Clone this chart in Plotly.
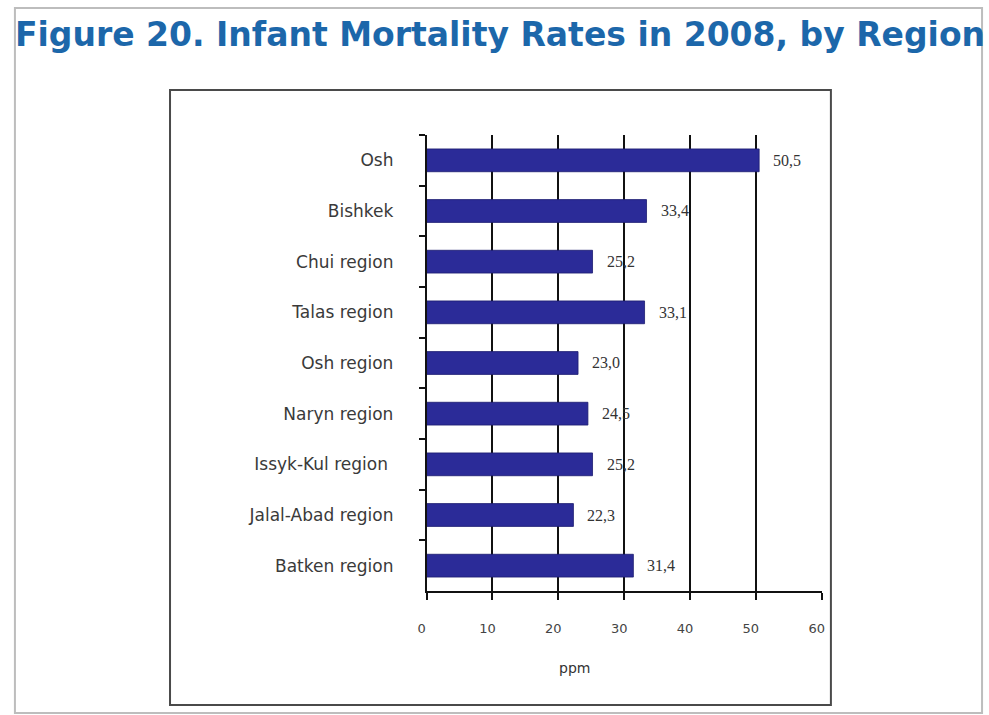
import plotly.graph_objects as go

# Infant mortality rate per region, 2008 (per mille)
regions = ["Osh", "Bishkek", "Chui region", "Talas region", "Osh region",
           "Naryn region", "Issyk-Kul region ", "Jalal-Abad region", "Batken region"]
rates = [50.5, 33.4, 25.2, 33.1, 23.0, 24.5, 25.2, 22.3, 31.4]
x_ticks = [0, 10, 20, 30, 40, 50, 60]

W, H = 989, 715
BAR = "#2b2b98"


def px(x):
    return x / W


def py(y):
    return 1 - y / H


fig = go.Figure()
fig.add_trace(go.Bar(
    y=regions, x=rates, orientation="h", width=0.45,
    marker=dict(color=BAR, line=dict(color="#1c1c70", width=0.8)),
    hoverinfo="skip",
))

# value labels to the right of each bar, written with decimal commas
for r, v in zip(regions, rates):
    fig.add_annotation(
        x=v, y=r, xref="x", yref="y", text=f"{v:.1f}".replace(".", ","),
        showarrow=False, xanchor="left", xshift=12,
        font=dict(family="Liberation Serif", size=16, color="#333333"),
    )

# title
fig.add_annotation(
    x=px(4), y=py(34), xref="paper", yref="paper", xanchor="left", yanchor="middle",
    text="<b>Figure 20. Infant Mortality Rates in 2008, by Region</b>",
    showarrow=False, font=dict(family="DejaVu Sans", size=33, color="#1c67aa"),
)

# axis title
fig.add_annotation(
    x=px(572), y=py(668), xref="paper", yref="paper", text="ppm",
    xanchor="center", yanchor="middle",
    showarrow=False, font=dict(family="DejaVu Sans", size=14, color="#333333"),
)

# page frame and chart frame
fig.add_shape(type="rect", xref="paper", yref="paper",
              x0=px(6), x1=px(985), y0=py(713), y1=py(8),
              line=dict(color="#bdbdbd", width=2))
fig.add_shape(type="rect", xref="paper", yref="paper",
              x0=px(163), x1=px(832), y0=py(705), y1=py(90),
              line=dict(color="#4a4a4a", width=2))

fig.update_layout(
    width=W, height=H,
    margin=dict(l=0, r=0, t=0, b=0),
    paper_bgcolor="white", plot_bgcolor="white",
    showlegend=False,
    xaxis=dict(
        domain=[px(422.7), px(822.7)], range=[0, 60], tickvals=x_ticks,
        showgrid=True, gridcolor="#111111", gridwidth=1.5,
        showline=True, linecolor="#111111", linewidth=1.5,
        ticks="outside", ticklen=7, tickcolor="#111111", tickwidth=1.5,
        ticklabelstandoff=18, ticklabelshift=-5,
        tickfont=dict(family="DejaVu Sans", size=13, color="#444444"),
        zeroline=False, fixedrange=True,
    ),
    yaxis=dict(
        domain=[py(591), py(135)], autorange="reversed",
        showline=True, linecolor="#111111", linewidth=1.5,
        ticks="outside", ticklen=6, tickcolor="#111111", tickwidth=1.5,
        tickson="boundaries", showgrid=False,
        ticklabelstandoff=28,
        tickfont=dict(family="DejaVu Sans", size=17, color="#3a3a3a"),
        fixedrange=True,
    ),
)

fig.write_html("out.html")
